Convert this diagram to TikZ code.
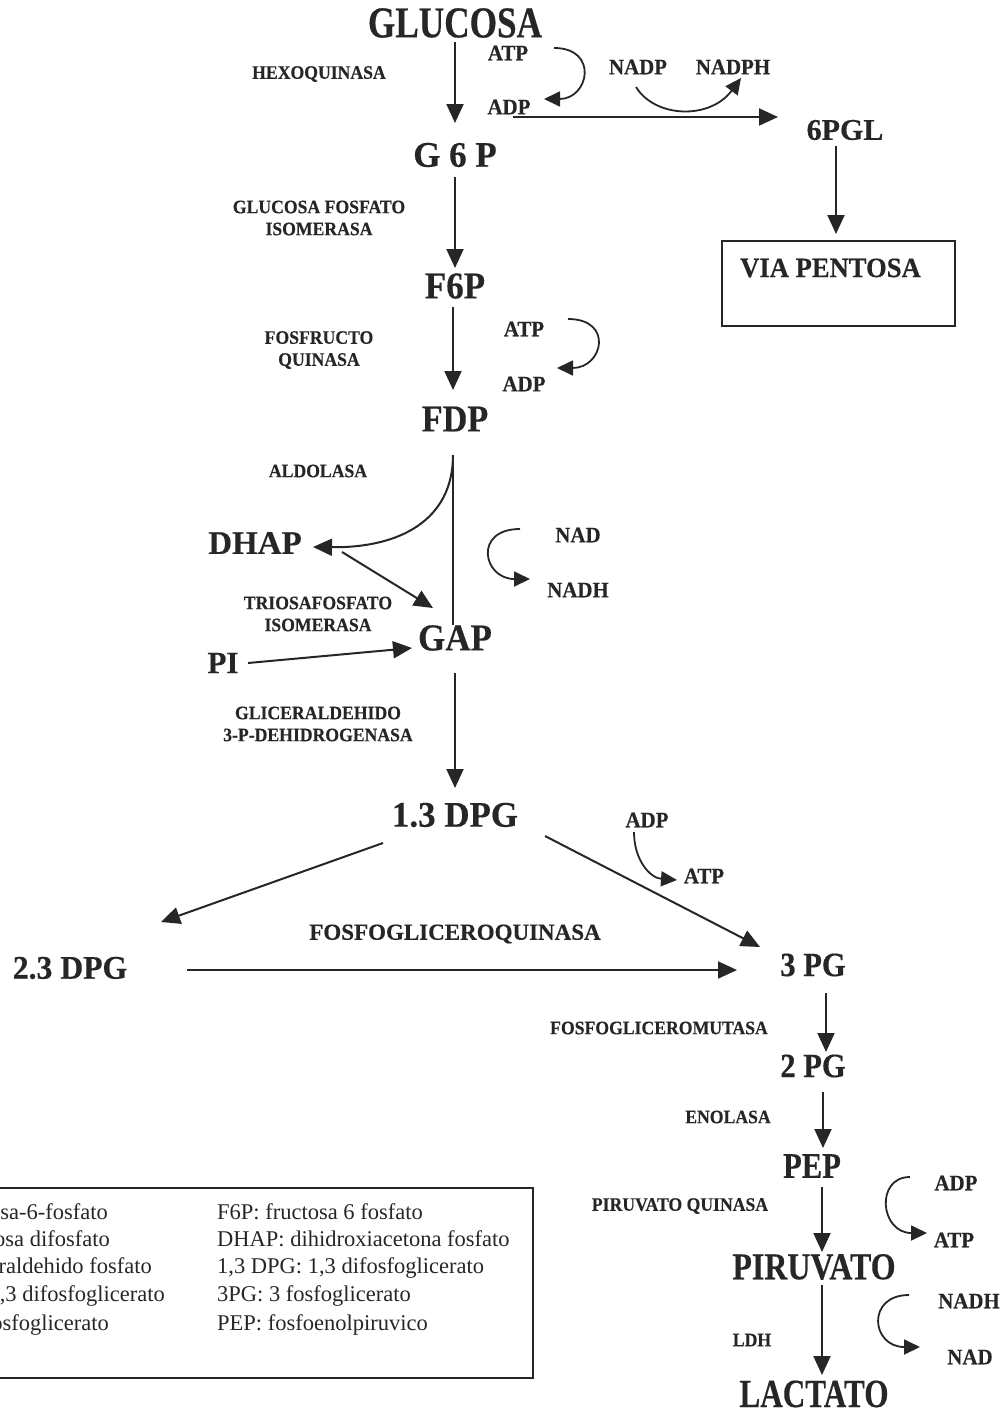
\documentclass[tikz,border=0pt]{standalone}
\usepackage{fontspec}
\setmainfont{Liberation Serif}[BoldFeatures={FakeBold=0.4}]
\usetikzlibrary{arrows.meta,calc}
\definecolor{ink}{RGB}{38,38,38}
\newcommand\hs[2]{\scalebox{#1}[1]{#2}}
\newcommand\sx[1]{\scalebox{0.93}[1]{#1}}
\begin{document}
\begin{tikzpicture}[x=1pt,y=-1pt,
  every node/.style={text=ink},
  met/.style={inner sep=0pt, font=\bfseries\fontsize{#1}{#1}\selectfont},
  lab/.style={inner sep=0pt, align=center, font=\bfseries\fontsize{19}{22}\selectfont},
  cof/.style={inner sep=0pt, font=\bfseries\fontsize{22}{22}\selectfont},
  leg/.style={inner sep=0pt, font=\fontsize{22.5}{27}\selectfont},
  arr/.style={draw=ink, line width=2pt, -{Triangle[length=19pt,width=17pt]}},
  carr/.style={draw=ink, line width=1.8pt, -{Triangle[length=16pt,width=15pt]}}]
\useasboundingbox (0,0) rectangle (1007,1411);
\clip (0,0) rectangle (1007,1411);
% metabolites
\node[met=44] (glucosa) at (455,23) {\hs{0.8}{GLUCOSA}};
\node[met=36] (g6p) at (455,155) {\hs{0.97}{G 6 P}};
\node[met=38] (f6p) at (455,286) {\hs{0.92}{F6P}};
\node[met=38] (fdp) at (455,419) {\hs{0.9}{FDP}};
\node[met=33] (dhap) at (255,543) {DHAP};
\node[met=38] (gap) at (455,638) {\hs{0.92}{GAP}};
\node[met=31] (pi) at (223,663) {PI};
\node[met=36] (dpg13) at (455,815) {\hs{0.97}{1.3 DPG}};
\node[met=33] (dpg23) at (70,968) {\hs{0.96}{2.3 DPG}};
\node[met=34] (pg3) at (813,965) {\hs{0.9}{3 PG}};
\node[met=34] (pg2) at (813,1066) {\hs{0.9}{2 PG}};
\node[met=36] (pep) at (812,1166) {\hs{0.85}{PEP}};
\node[met=38] (piru) at (814,1267) {\hs{0.84}{PIRUVATO}};
\node[met=40] (lact) at (814,1394) {\hs{0.78}{LACTATO}};
\node[met=30] (pgl) at (845,130) {6PGL};
\node[draw=ink, line width=1.5pt, minimum width=233pt, minimum height=85pt, inner sep=0pt] (via) at (838.5,283.5) {};
\node[met=28, anchor=west] (viatxt) at (740,268) {\hs{0.95}{VIA PENTOSA}};
% enzymes
\node[lab] (hexo) at (319,74) {\sx{HEXOQUINASA}};
\node[lab] (gpi) at (319,218) {\sx{GLUCOSA FOSFATO}\\\sx{ISOMERASA}};
\node[lab] (pfk) at (319,350) {\sx{FOSFRUCTO}\\\sx{QUINASA}};
\node[lab] (aldo) at (318,471) {\sx{ALDOLASA}};
\node[lab] (tpi) at (318,614) {\sx{TRIOSAFOSFATO}\\\sx{ISOMERASA}};
\node[lab] (gapdh) at (318,724) {\sx{GLICERALDEHIDO}\\\sx{3-P-DEHIDROGENASA}};
\node[lab, font=\bfseries\fontsize{23}{23}\selectfont] (pgk) at (455,934) {FOSFOGLICEROQUINASA};
\node[lab] (pgm) at (659,1028) {\sx{FOSFOGLICEROMUTASA}};
\node[lab] (eno) at (728,1117) {\sx{ENOLASA}};
\node[lab] (pk) at (680,1206) {\sx{PIRUVATO QUINASA}};
\node[lab] (ldh) at (752,1340) {\sx{LDH}};
% cofactors
\node[cof] (atp1) at (508,53) {\hs{0.95}{ATP}};
\node[cof] (adp1) at (509,107) {\hs{0.95}{ADP}};
\node[cof] (nadp) at (638,67) {\hs{0.95}{NADP}};
\node[cof] (nadph) at (733,67) {\hs{0.95}{NADPH}};
\node[cof] (atp2) at (524,329) {\hs{0.95}{ATP}};
\node[cof] (adp2) at (524,384) {\hs{0.95}{ADP}};
\node[cof] (nad3) at (578,535) {\hs{0.95}{NAD}};
\node[cof] (nadh3) at (578,590) {\hs{0.95}{NADH}};
\node[cof] (adp3) at (647,820) {\hs{0.95}{ADP}};
\node[cof] (atp3) at (704,876) {\hs{0.95}{ATP}};
\node[cof] (adp4) at (956,1183) {\hs{0.95}{ADP}};
\node[cof] (atp4) at (954,1240) {\hs{0.95}{ATP}};
\node[cof] (nadh5) at (969,1301) {\hs{0.95}{NADH}};
\node[cof] (nad5) at (970,1357) {\hs{0.95}{NAD}};
% main arrows
\draw[arr] ($(glucosa)+(0,19)$) -- ($(g6p)+(0,-32)$);
\draw[arr] ($(g6p)+(0,22)$) -- ($(f6p)+(0,-18)$);
\draw[arr] ($(f6p)+(-2,21)$) -- ($(fdp)+(-2,-29)$);
\draw[draw=ink, line width=2pt] ($(fdp)+(-2,36)$) -- ($(gap)+(-2,-13)$);
\draw[arr] ($(fdp)+(-2,36)$) .. controls ($(fdp)+(-2,101)$) and ($(dhap)+(145,5)$) .. ($(dhap)+(58,4)$);
\draw[arr] ($(dhap)+(87,9)$) -- ($(gap)+(-22,-30)$);
\draw[arr] ($(pi)+(25,0)$) -- ($(gap)+(-43,10)$);
\draw[arr] ($(gap)+(0,35)$) -- ($(dpg13)+(0,-27)$);
\draw[arr] ($(dpg13)+(-72,28)$) -- ($(dpg23)+(91,-46)$);
\draw[arr] ($(dpg13)+(90,21)$) -- ($(pg3)+(-53,-18)$);
\draw[arr] ($(dpg23)+(117,2)$) -- ($(pg3)+(-76,5)$);
\draw[arr] ($(pg3)+(13,28)$) -- ($(pg2)+(13,-14)$);
\draw[arr] ($(pg2)+(10,26)$) -- ($(pep)+(11,-18)$);
\draw[arr] ($(pep)+(10,21)$) -- ($(piru)+(8,-15)$);
\draw[arr] ($(piru)+(8,18)$) -- ($(lact)+(8,-19)$);
\draw[arr] ($(pgl)+(-9,16)$) -- ($(via)+(-2.5,-49.5)$);
\draw[arr] ($(adp1)+(4,10)$) -- ($(pgl)+(-67,-13)$);
% cofactor curves
\draw[carr] ($(atp1)+(46,-5)$) .. controls ($(atp1)+(91,-5)$) and ($(adp1)+(80,-8)$) .. ($(adp1)+(35,-8)$);
\draw[carr] ($(nadp)+(-2,20)$) .. controls ($(nadp)+(17,51)$) and ($(nadph)+(-23,53)$) .. ($(nadph)+(8,11)$);
\draw[carr] ($(atp2)+(44,-10)$) .. controls ($(atp2)+(90,-10)$) and ($(adp2)+(79,-16)$) .. ($(adp2)+(33,-16)$);
\draw[carr] ($(nad3)+(-58,-6)$) .. controls ($(nad3)+(-105,-6)$) and ($(nadh3)+(-95,-11)$) .. ($(nadh3)+(-48,-11)$);
\draw[carr] ($(adp3)+(-13,12)$) .. controls ($(adp3)+(-13,40)$) and ($(atp3)+(-54,2)$) .. ($(atp3)+(-27,4)$);
\draw[carr] ($(adp4)+(-46,-6)$) .. controls ($(adp4)+(-81,-6)$) and ($(atp4)+(-74,-7)$) .. ($(atp4)+(-27,-7)$);
\draw[carr] ($(nadh5)+(-60,-6)$) .. controls ($(nadh5)+(-103,-6)$) and ($(nad5)+(-99,-10)$) .. ($(nad5)+(-50,-10)$);
% legend
\node[draw=ink, line width=1.5pt, minimum width=540pt, minimum height=190pt, inner sep=0pt] (legend) at (263,1283) {};
\node[leg, anchor=base east] (l1) at (108,1219) {G6P: glucosa-6-fosfato};
\node[leg, anchor=base east] (l2) at (110,1246) {FDP: fructosa difosfato};
\node[leg, anchor=base east] (l3) at (152,1273) {GAP: gliceraldehido fosfato};
\node[leg, anchor=base east] (l4) at (165,1301) {2,3 DPG: 2,3 difosfoglicerato};
\node[leg, anchor=base east] (l5) at (109,1330) {2PG: 2 fosfoglicerato};
\node[leg, anchor=base west] (r1) at (217,1219) {F6P: fructosa 6 fosfato};
\node[leg, anchor=base west] (r2) at (217,1246) {DHAP: dihidroxiacetona fosfato};
\node[leg, anchor=base west] (r3) at (217,1273) {1,3 DPG: 1,3 difosfoglicerato};
\node[leg, anchor=base west] (r4) at (217,1301) {3PG: 3 fosfoglicerato};
\node[leg, anchor=base west] (r5) at (217,1330) {PEP: fosfoenolpiruvico};
\end{tikzpicture}
\end{document}
